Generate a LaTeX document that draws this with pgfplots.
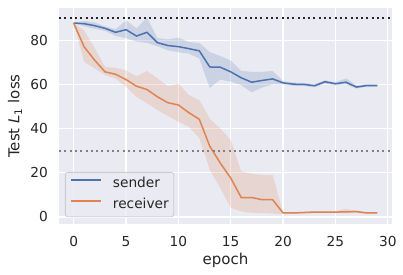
\documentclass[border=0pt]{standalone}
\usepackage{fontspec}
\setmainfont{DejaVu Sans}
\usepackage{pgfplots}
\pgfplotsset{compat=1.18}
\usepackage{pgfplotstable}
\usepgfplotslibrary{fillbetween}

\definecolor{sendc}{RGB}{76,114,176}
\definecolor{recvc}{RGB}{221,132,82}
\definecolor{bgc}{RGB}{234,234,242}
\definecolor{txtc}{RGB}{38,38,38}
\definecolor{legedge}{RGB}{204,204,204}

\pgfplotstableread{
e mean up lo
0 87.8 87.8 87.8
1 87.5 88.7 86.3
2 86.6 88.1 85.2
3 85.4 86.3 84.2
4 83.6 85.0 82.0
5 84.8 89.0 80.9
6 81.9 85.4 79.4
7 83.6 90.2 78.8
8 78.9 81.0 77.3
9 77.6 80.4 75.4
10 77.1 81.2 74.6
11 76.2 79.2 74.0
12 75.2 78.8 71.7
13 67.9 74.7 58.4
14 67.8 72.9 62.2
15 65.7 70.8 61.2
16 63.0 66.1 59.7
17 61.0 65.7 56.4
18 61.8 65.7 58.6
19 62.5 66.1 60.0
20 60.7 61.5 60.0
21 60.1 60.8 59.4
22 60.0 60.6 59.3
23 59.4 60.1 58.7
24 61.2 61.9 60.4
25 60.3 61.0 59.6
26 61.0 62.7 60.1
27 58.8 59.6 58.1
28 59.5 60.2 59.0
29 59.5 60.1 59.1
}\sender

\pgfplotstableread{
e mean up lo
0 87.8 87.8 87.8
1 77.0 84.5 70.2
2 71.0 76.5 67.2
3 65.7 67.9 64.2
4 64.6 67.5 62.7
5 62.2 66.4 58.9
6 59.2 63.7 54.4
7 57.7 66.1 51.4
8 54.4 62.8 48.4
9 51.7 59.2 45.7
10 50.7 60.4 43.1
11 47.2 55.2 40.9
12 44.2 52.9 35.6
13 32.0 44.5 21.3
14 24.4 40.1 13.1
15 17.6 34.9 4.1
16 8.8 20.6 2.5
17 8.8 19.6 1.8
18 7.8 19.0 1.8
19 7.8 19.1 1.5
20 1.8 2.2 1.3
21 1.8 2.2 1.4
22 2.0 2.4 1.6
23 2.2 2.6 1.8
24 2.2 2.6 1.8
25 2.2 2.6 1.8
26 2.3 3.6 1.6
27 2.4 2.9 1.9
28 1.8 2.2 1.4
29 1.8 2.1 1.5
}\receiver

\begin{document}
\begin{tikzpicture}
\begin{axis}[
  scale only axis,
  width=333pt, height=216pt,
  xmin=-1.4, xmax=30.4,
  ymin=-3.2, ymax=94.6,
  xtick={0,5,...,30},
  ytick={0,20,...,80},
  axis background/.style={fill=bgc},
  axis line style={draw=none},
  major tick length=0pt,
  tick style={draw=none},
  grid=major,
  major grid style={white, line width=1.2pt},
  /pgf/number format/assume math mode=true,
  every tick label/.append style={font=\fontsize{13.75}{16}\selectfont, text=txtc, inner sep=0pt},
  xticklabel shift=12.5pt,
  yticklabel shift=11pt,
  xlabel={epoch},
  ylabel={Test {\itshape L}\textsubscript{1} loss},
  label style={font=\fontsize{15}{18}\selectfont, text=txtc, inner sep=0pt},
  xlabel style={at={(axis description cs:0.5,-0.1667)}, anchor=center},
  ylabel style={at={(axis description cs:-0.1321,0.5)}, anchor=center},
  legend style={at={(0.018,0.032)}, anchor=south west,
    fill=bgc, fill opacity=0.8, text opacity=1, draw=legedge, line width=0.8pt,
    rounded corners=2.5pt,
    font=\fontsize{13.75}{16}\selectfont, text=txtc,
    inner xsep=5pt, inner ysep=5pt,
    row sep=6.9pt,
    nodes={inner sep=0pt, text height=10.4pt, text depth=3.3pt, font=\fontsize{13.75}{16}\selectfont},
    /tikz/every odd column/.append style={column sep=11pt}},
  legend cell align=left,
  legend image code/.code={\draw[#1, line width=1.5pt] (0pt,4pt) -- (30pt,4pt);},
]
% bands
\addplot[name path=su, draw=none, forget plot] table[x=e, y=up] {\sender};
\addplot[name path=sl, draw=none, forget plot] table[x=e, y=lo] {\sender};
\addplot[fill=sendc, fill opacity=0.2, draw=none, forget plot] fill between[of=su and sl];
\addplot[name path=ru, draw=none, forget plot] table[x=e, y=up] {\receiver};
\addplot[name path=rl, draw=none, forget plot] table[x=e, y=lo] {\receiver};
\addplot[fill=recvc, fill opacity=0.2, draw=none, forget plot] fill between[of=ru and rl];
% lines
\addplot[sendc, line width=1.5pt, no markers] table[x=e, y=mean] {\sender};
\addlegendentry{sender}
\addplot[recvc, line width=1.5pt, no markers] table[x=e, y=mean] {\receiver};
\addlegendentry{receiver}
% reference lines
\addplot[txtc, line width=2pt, dash pattern=on 2pt off 3.3pt, forget plot] coordinates {(-1.4,90) (30.4,90)};
\addplot[gray, line width=2pt, dash pattern=on 2pt off 3.3pt, forget plot] coordinates {(-1.4,30) (30.4,30)};
\end{axis}
\pgfresetboundingbox
\path[use as bounding box] (-59pt,-50pt) rectangle (344pt,224pt);
\end{tikzpicture}
\end{document}
